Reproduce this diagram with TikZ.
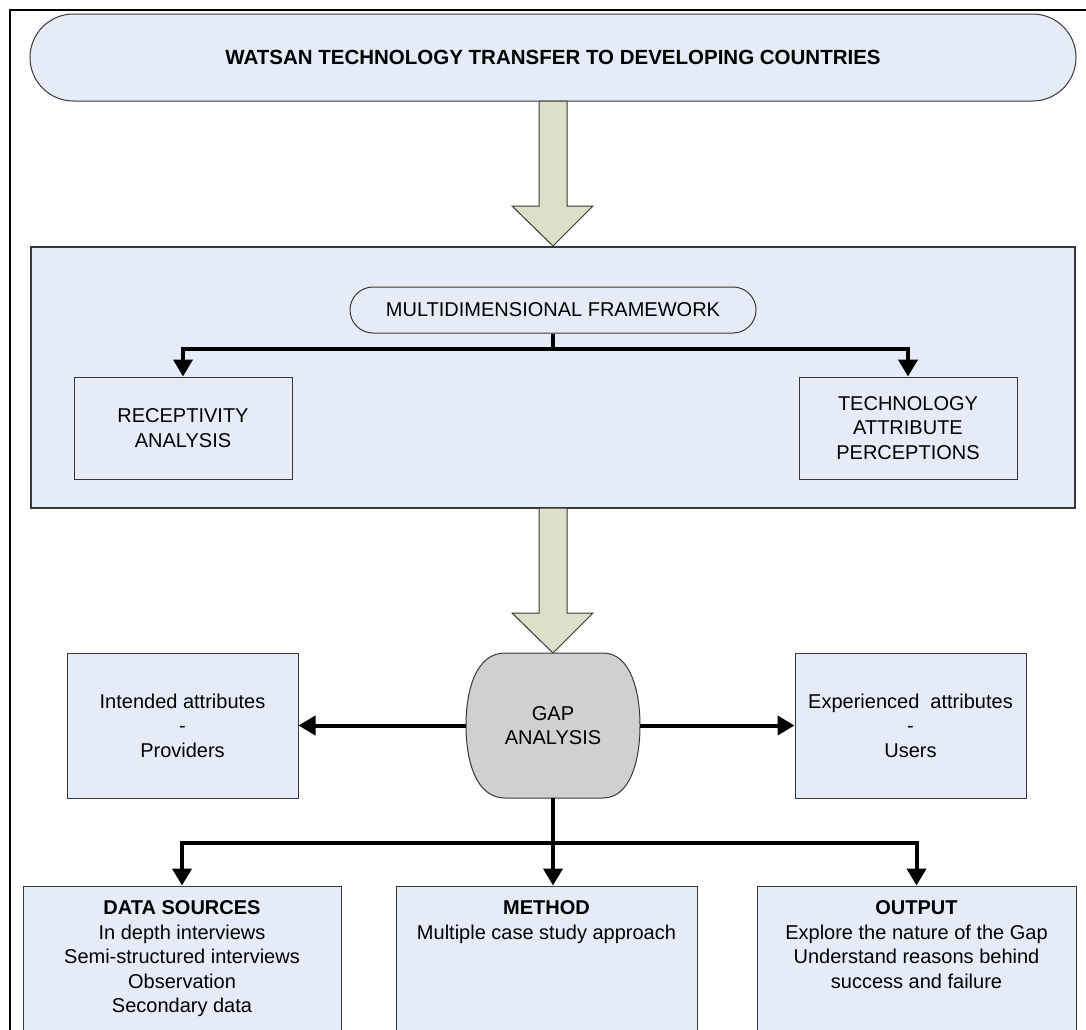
\documentclass[tikz,border=0pt]{standalone}
\usepackage{fontspec}
\setmainfont{Liberation Sans}
\usetikzlibrary{arrows.meta,calc}
\definecolor{boxfill}{RGB}{230,236,247}
\definecolor{arrowfill}{RGB}{220,224,200}
\definecolor{gapfill}{RGB}{208,208,208}
\definecolor{edge}{RGB}{55,55,55}
\tikzset{
  box/.style={draw=edge, line width=1pt, fill=boxfill, align=center, font=\fontsize{20}{24.5}\selectfont, inner sep=0pt},
  conn/.style={line width=4pt, -{Triangle[length=17pt,width=19pt]}},
  blockarrow/.style={draw=edge, line width=1pt, fill=arrowfill},
  txt/.style={align=center, font=\fontsize{20}{24.5}\selectfont, inner sep=0pt},
}
\begin{document}
\begin{tikzpicture}[x=1pt,y=-1pt]
\path[use as bounding box] (0,0) rectangle (1086,1029);
\clip (0,0) rectangle (1086,1029);
% outer frame
\draw[line width=2.5pt] (10,1200) -- (10,10) -- (1200,10);
% title banner
\node[box, minimum width=1046pt, minimum height=87pt, rounded corners=43.5pt,
      font=\fontsize{20.5}{24}\selectfont\bfseries] (title) at (553,57.5)
      {WATSAN TECHNOLOGY TRANSFER TO DEVELOPING COUNTRIES};
% framework container
\node[box, line width=1.5pt, minimum width=1044pt, minimum height=261pt] (fw) at (553,377.5) {};
% block arrow 1
\draw[blockarrow] (539,101) -- (567,101) -- (567,206) -- (593,206) -- (553,246)
      -- (512,206) -- (539,206) -- cycle;
% framework contents
\node[box, rounded corners=23pt, minimum width=406pt, minimum height=46pt] (mf) at (553,310)
      {MULTIDIMENSIONAL FRAMEWORK};
\node[box, minimum width=218pt, minimum height=102pt] (rec) at (183,428)
      {RECEPTIVITY\\ANALYSIS};
\node[box, minimum width=218pt, minimum height=102pt] (tech) at (908,428)
      {TECHNOLOGY\\ATTRIBUTE\\PERCEPTIONS};
\draw[conn] (mf.south) -- ++(0,15) -| (rec.north);
\draw[conn] (mf.south) -- ++(0,15) -| (tech.north);
% block arrow 2
\draw[blockarrow] (539,508) -- (567,508) -- (567,613) -- (593,613) -- (553,653)
      -- (512,613) -- (539,613) -- cycle;
% gap analysis shape
\draw[draw=edge, line width=1pt, fill=gapfill]
  (505,653) -- (603,653) .. controls (630,653) and (640,690) .. (640,725.5)
  .. controls (640,761) and (630,798) .. (603,798) -- (505,798)
  .. controls (476,798) and (466,761) .. (466,725.5)
  .. controls (466,690) and (476,653) .. (505,653) -- cycle;
\node[txt, minimum width=174pt, minimum height=145pt] (gap) at (553,725.5) {GAP\\ANALYSIS};
% side boxes
\node[box, minimum width=231pt, minimum height=145pt] (intended) at (182.5,725.5)
      {Intended attributes\\-\\Providers};
\node[box, minimum width=231pt, minimum height=145pt] (exper) at (910.5,725.5)
      {Experienced\ \ attributes\\-\\Users};
\draw[conn] (gap.west) -- (intended.east);
\draw[conn] (gap.east) -- (exper.west);
% bottom boxes
\node[box, minimum width=318pt, minimum height=164pt] (ds) at (182,968) {};
\node[box, minimum width=301pt, minimum height=164pt] (method) at (546.5,968) {};
\node[box, minimum width=319pt, minimum height=164pt] (output) at (916.5,968) {};
\node[txt, anchor=north] (dstext) at ($(ds.north)+(0,15)$)
      {\textbf{DATA SOURCES}\\In depth interviews\\Semi-structured interviews\\Observation\\Secondary data};
\node[txt, anchor=north] (methodtext) at ($(method.north)+(0,15)$)
      {\textbf{METHOD}\\Multiple case study approach};
\node[txt, anchor=north] (outputtext) at ($(output.north)+(0,15)$)
      {\textbf{OUTPUT}\\Explore the nature of the Gap\\Understand reasons behind\\success and failure};
\draw[conn] (gap.south) -- ++(0,45) -| (ds.north);
\draw[conn] (gap.south) -- ++(0,45) -| (output.north);
\draw[conn] (gap.south) -- (gap.south |- method.north);
\end{tikzpicture}
\end{document}
